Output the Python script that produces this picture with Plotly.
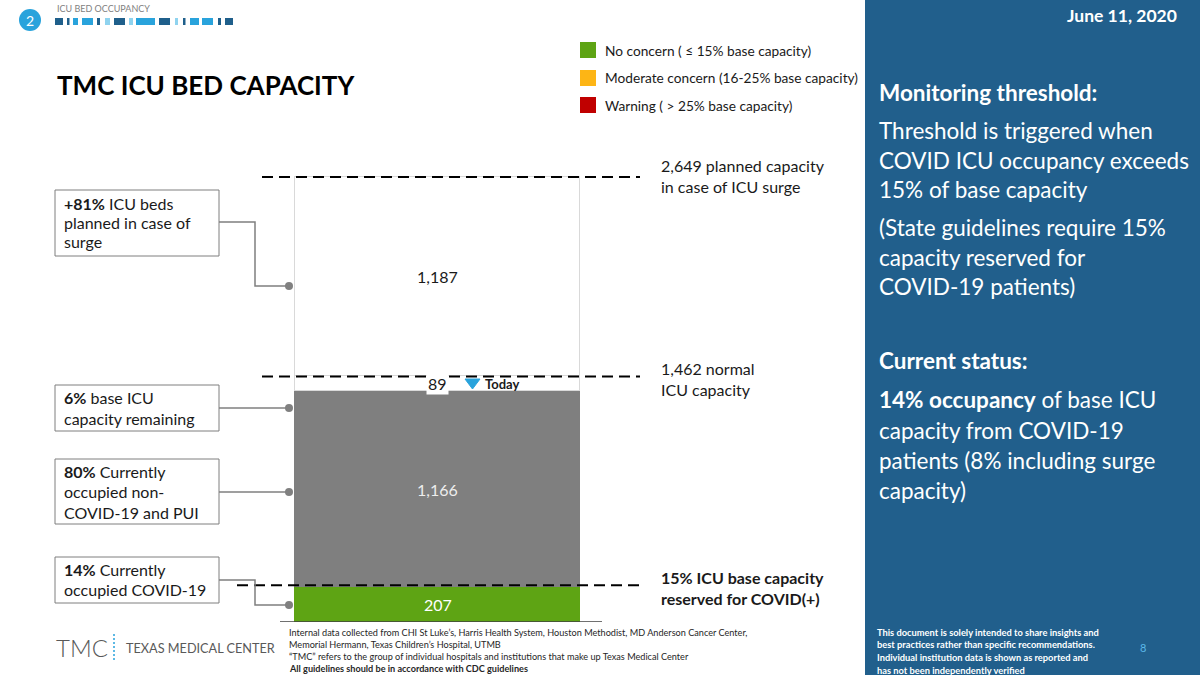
import plotly.graph_objects as go

# ---------------- data ----------------
category = ["TMC"]
segments = ["Currently occupied COVID-19", "Currently occupied non-COVID-19 and PUI",
            "Base ICU capacity remaining", "Planned surge ICU beds"]
beds = [207, 1166, 89, 1187]
base_capacity = 1462
surge_capacity = 2649
reserve_share = 0.15
report_date = "June 11, 2020"

seg_colors = ["#5ea414", "#7f7f7f", "#ffffff", "#ffffff"]
seg_line_colors = ["#5ea414", "#7f7f7f", "#d9d9d9", "#d9d9d9"]
label_colors = ["#ffffff", "#eeeeee", "#1a1a1a", "#1a1a1a"]

legend_labels = ["No concern ( ≤ 15% base capacity)",
                 "Moderate concern (16-25% base capacity)",
                 "Warning ( > 25% base capacity)"]
legend_colors = ["#5ea414", "#fdb515", "#c00000"]

W, H = 1200, 675
FONT = "Lato"


def px(x):
    return x / W


def py(y):
    return 1 - y / H


fig = go.Figure()
for name, v, c, lc in zip(segments, beds, seg_colors, seg_line_colors):
    fig.add_trace(go.Bar(x=category, y=[v], name=name, width=1,
                         marker=dict(color=c, line=dict(color=lc, width=1.2)),
                         hoverinfo="name+y"))

shapes = []
ann = []


def text(x, y, t, size=16, color="#1a1a1a", anchor="left", weight=None, xref="paper", yref="paper", **kw):
    f = dict(family=FONT, size=size, color=color)
    if weight:
        f["weight"] = weight
    ann.append(dict(x=px(x) if xref == "paper" else x, y=py(y) if yref == "paper" else y,
                    xref=xref, yref=yref, text=t, showarrow=False, xanchor=anchor,
                    yanchor="middle", font=f, **kw))


def rect(x0, y0, x1, y1, fill=None, line=None, lw=1):
    shapes.append(dict(type="rect", xref="paper", yref="paper", x0=px(x0), x1=px(x1),
                       y0=py(y0), y1=py(y1), fillcolor=fill or "rgba(0,0,0,0)",
                       line=dict(color=line or "rgba(0,0,0,0)", width=lw if line else 0), layer="above"))


def path(pts, color="#7f7f7f", lw=1.5, fill=None, close=False):
    d = "M " + " L ".join(f"{px(x)},{py(y)}" for x, y in pts) + (" Z" if close else "")
    shapes.append(dict(type="path", xref="paper", yref="paper", path=d,
                       line=dict(color=color, width=lw), fillcolor=fill or "rgba(0,0,0,0)", layer="above"))


# ---- right panel ----
rect(865, 0, 1200, 675, fill="#215f8c")

# ---- bar value labels ----
cum = 0
for v, lc in zip(beds, label_colors):
    mid = cum + v / 2
    cum += v
    extra = dict(bgcolor="#ffffff", borderpad=1) if v == beds[2] else {}
    ann.append(dict(x=category[0], y=mid, xref="x", yref="y", text=f"{v:,}", showarrow=False,
                    font=dict(family=FONT, size=16, color=lc), **extra))

# ---- dashed reference lines ----
for yv, x0 in [(surge_capacity, 262), (base_capacity, 262), (reserve_share * base_capacity, 237)]:
    shapes.append(dict(type="line", xref="paper", yref="y", x0=px(x0), x1=px(640), y0=yv, y1=yv,
                       line=dict(color="#000000", width=2, dash="11px,6px"), layer="above"))
# baseline
shapes.append(dict(type="line", xref="paper", yref="y", x0=px(280), x1=px(602), y0=0, y1=0,
                   line=dict(color="#404040", width=1.5), layer="above"))

# today marker
path([(465, 379), (480, 379), (472.5, 389)], color="#29a3dc", lw=1, fill="#29a3dc", close=True)
text(483, 384, "<b>Today</b>", size=13, color="#1a1a1a")

# right labels
text(659, 165, f"{surge_capacity:,} planned capacity", size=16)
text(659, 187, "in case of ICU surge", size=16)
text(659, 368, f"{base_capacity:,} normal", size=16)
text(659, 390, "ICU capacity", size=16)
text(659, 577, f"<b>{reserve_share:.0%} ICU base capacity</b>", size=16)
text(659, 598, "<b>reserved for COVID(+)</b>", size=16)

# left boxes
pct = [round(100 * beds[3] / base_capacity), round(100 * beds[2] / base_capacity),
       round(100 * beds[1] / base_capacity), round(100 * beds[0] / base_capacity)]
boxes = [
    ((190, 256), [(203, f"<b>+{pct[0]}%</b> ICU beds"), (222, "planned in case of"), (242, "surge")]),
    ((385, 431), [(397, f"<b>{pct[1]}%</b> base ICU"), (418, "capacity remaining")]),
    ((459, 524), [(471, f"<b>{pct[2]}%</b> Currently"), (491, "occupied non-"), (512, "COVID-19 and PUI")]),
    ((557, 603), [(569, f"<b>{pct[3]}%</b> Currently"), (589, "occupied COVID-19")]),
]
for (y0, y1), lines in boxes:
    rect(55, y0, 219, y1, fill="#ffffff", line="#7f7f7f", lw=1)
    for yy, t in lines:
        text(62, yy, t, size=16)

path([(219, 222), (255, 222), (255, 286), (289, 286)])
path([(219, 408), (289, 408)])
path([(219, 492), (289, 492)])
path([(219, 580), (255, 580), (255, 605), (289, 605)])
for dy in [286, 408, 492, 605]:
    shapes.append(dict(type="circle", xref="paper", yref="paper", x0=px(285), x1=px(293),
                       y0=py(dy + 4), y1=py(dy - 4), fillcolor="#808080",
                       line=dict(color="#808080", width=0), layer="above"))

# legend
for i, (lab, col) in enumerate(zip(legend_labels, legend_colors)):
    yc = [50, 78, 105][i]
    rect(580, yc - 8, 596, yc + 8, fill=col)
    text(603, yc, lab, size=13.7)

# title and header
text(55, 85, "<b>TMC ICU BED CAPACITY</b>", size=26, color="#000000")
shapes.append(dict(type="circle", xref="paper", yref="paper", x0=px(19), x1=px(41),
                   y0=py(31), y1=py(9), fillcolor="#29a3dc", line=dict(width=0)))
text(30, 20, "2", size=14, color="#ffffff", anchor="center")
text(55, 8, "ICU BED OCCUPANCY", size=9, color="#7f7f7f")
dark, mid_b, light = "#1f5f8b", "#29a3dc", "#8fd3ef"
blocks = [(55, 63, dark), (67, 69.5, dark), (73, 78, mid_b), (82, 93, mid_b), (97, 100, dark),
          (105, 110, light), (114, 125, dark), (129, 133, light), (136, 155, mid_b),
          (159, 170, dark), (175, 178, light), (183, 185.5, dark), (190, 199, mid_b),
          (202, 213, mid_b), (218, 221, dark), (225, 233, dark)]
for x0, x1, c in blocks:
    rect(x0, 18, x1, 25, fill=c)

# right panel text
text(1179, 15, f"<b>{report_date}</b>", size=17.5, color="#ffffff", anchor="right")
panel_lines = [
    (92, "<b>Monitoring threshold:</b>"),
    (130, "Threshold is triggered when"),
    (160, "COVID ICU occupancy exceeds"),
    (189, f"{reserve_share:.0%} of base capacity"),
    (227, f"(State guidelines require {reserve_share:.0%}"),
    (257, "capacity reserved for"),
    (287, "COVID-19 patients)"),
    (360, "<b>Current status:</b>"),
    (399, f"<b>{pct[3]}% occupancy</b> of base ICU"),
    (430, "capacity from COVID-19"),
    (460, f"patients ({round(100 * beds[0] / surge_capacity)}% including surge"),
    (490, "capacity)"),
]
for yy, t in panel_lines:
    text(877, yy, t, size=22.5, color="#ffffff")

foot_r = ["This document is solely intended to share insights and",
          "best practices rather than specific recommendations.",
          "Individual institution data is shown as reported and",
          "has not been independently verified"]
for i, t in enumerate(foot_r):
    text(875, 632 + i * 12.7, f"<b>{t}</b>", size=9.3, color="#ffffff")
text(1143, 647, "8", size=11, color="#5bb8e8", anchor="center")

foot_l = ["Internal data collected from CHI St Luke’s, Harris Health System, Houston Methodist, MD Anderson Cancer Center,",
          "Memorial Hermann, Texas Children’s Hospital, UTMB",
          "“TMC” refers to the group of individual hospitals and institutions that make up Texas Medical Center",
          "<b>All guidelines should be in accordance with CDC guidelines</b>"]
for i, t in enumerate(foot_l):
    text(287, 632 + i * 12.3, t, size=9.15, color="#262626")

# logo
text(54, 647, "TMC", size=24, color="#595959", weight=300)
shapes.append(dict(type="line", xref="paper", yref="paper", x0=px(114), x1=px(114), y0=py(634), y1=py(661),
                   line=dict(color="#29a3dc", width=1.5, dash="2px,2px")))
text(124, 648, "TEXAS MEDICAL CENTER", size=12.7, color="#595959")

# x range slightly wider than the bar so its outline is not clipped
bar_l, bar_r, pad = 295, 580, 6
span = 1 + 2 * pad / (bar_r - bar_l)
fig.update_layout(
    width=W, height=H, margin=dict(l=0, r=0, t=0, b=0),
    paper_bgcolor="#ffffff", plot_bgcolor="rgba(0,0,0,0)",
    barmode="stack", bargap=0, showlegend=False,
    xaxis=dict(domain=[px(bar_l - pad), px(bar_r + pad)], range=[-span / 2, span / 2],
               visible=False, fixedrange=True),
    yaxis=dict(domain=[py(622), 1], range=[0, surge_capacity * 622 / 445], visible=False, fixedrange=True),
    shapes=shapes, annotations=ann, font=dict(family=FONT),
)
fig.write_html("out.html")
